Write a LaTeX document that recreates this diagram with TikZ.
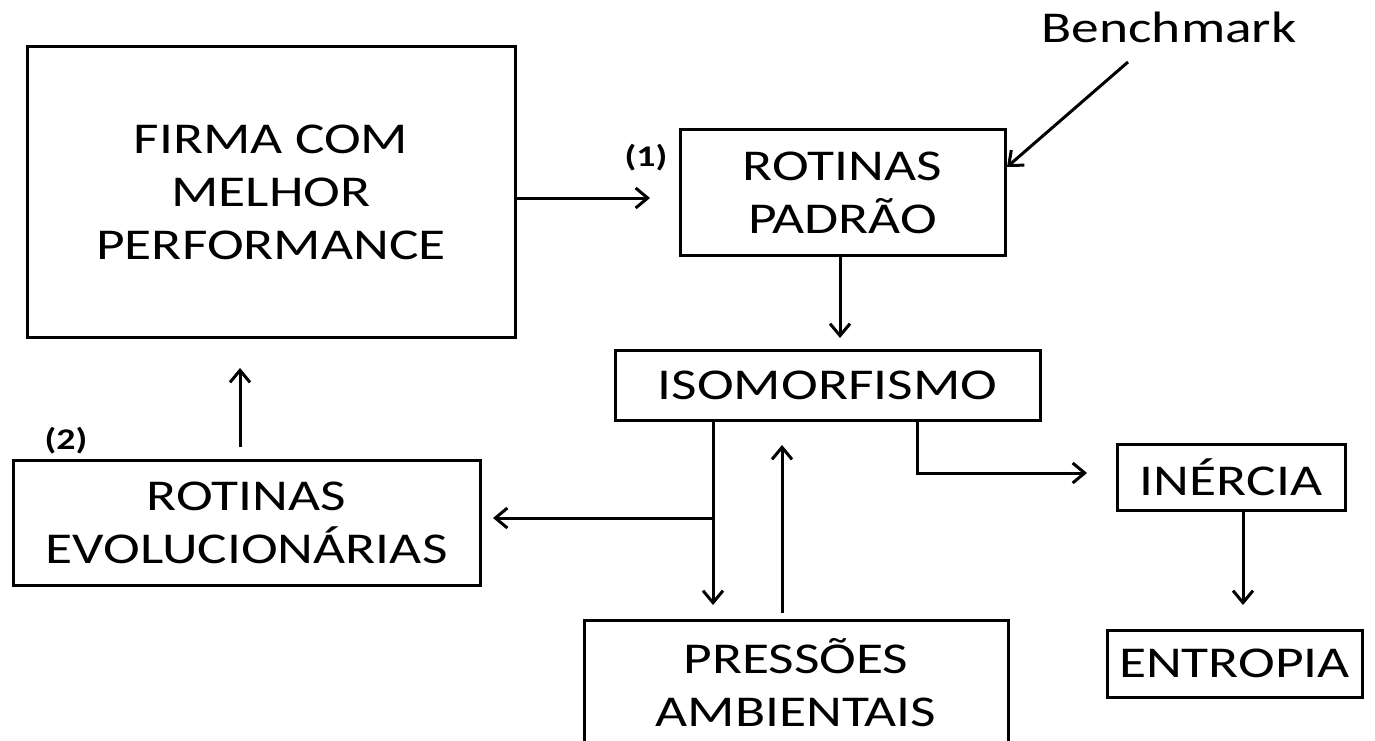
\documentclass[tikz,border=0pt]{standalone}
\usepackage{fontspec}
\setmainfont[FakeStretch=1.26]{Carlito}
\usetikzlibrary{arrows.meta}
\begin{document}
\begin{tikzpicture}[x=1pt,y=-1pt,
  box/.style={draw,line width=3pt,inner sep=0pt,align=center,font=\fontsize{44}{53}\selectfont},
  arr/.style={line width=3pt,-{Straight Barb[length=12pt,width=20pt,line width=3pt]}},
  lab/.style={font=\fontsize{30}{34}\selectfont\bfseries,inner sep=0pt}]
\useasboundingbox (0,0) rectangle (1375,741);
\clip (0,0) rectangle (1375,741);
\node[box,minimum width=488pt,minimum height=290pt] (firma) at (271,192) {FIRMA COM\\MELHOR\\PERFORMANCE};
\node[box,minimum width=325pt,minimum height=125pt] (padrao) at (842.5,192.5) {ROTINAS\\PADRÃO};
\node[box,minimum width=425pt,minimum height=70pt] (iso) at (827.5,385) {ISOMORFISMO};
\node[box,minimum width=467pt,minimum height=125pt] (evol) at (246.5,522.5) {ROTINAS\\EVOLUCIONÁRIAS};
\node[box,minimum width=228pt,minimum height=66pt] (inercia) at (1231,477) {INÉRCIA};
\node[box,minimum width=255pt,minimum height=67pt] (entropia) at (1234.5,663.5) {ENTROPIA};
\node[box,minimum width=424pt,minimum height=125pt] (pres) at (796,682.5) {PRESSÕES\\AMBIENTAIS};
\node[font=\fontsize{44}{53}\selectfont,anchor=base,inner sep=0pt] (bench) at (1169,43) {Benchmark};
\node[lab] (l1) at (646,158) {(1)};
\node[lab] (l2) at (66,441) {(2)};
% connectors
\coordinate (c1) at (650,198);
\draw[arr] (firma.east |- c1) -- (c1);
\coordinate (c2) at (840,338);
\draw[arr] (padrao.south -| c2) -- (c2);
\coordinate (c3a) at (240,447);
\coordinate (c3b) at (240,368);
\draw[arr] (c3a) -- (c3b);
\coordinate (c4) at (713,605);
\coordinate (c4b) at (713,518);
\coordinate (c4c) at (493,518);
\draw[arr] (iso.south -| c4) -- (c4);
\draw[arr] (c4b) -- (c4c);
\coordinate (c5a) at (782,613);
\coordinate (c5b) at (782,445);
\draw[arr] (c5a) -- (c5b);
\coordinate (c6) at (1087,473);
\coordinate (c6x) at (917,0);
\draw[arr] (iso.south -| c6x) |- (c6);
\coordinate (c7) at (1243,605);
\draw[arr] (inercia.south -| c7) -- (c7);
\coordinate (c8a) at (1128,62);
\coordinate (c8b) at (1007,167);
\draw[arr] (c8a) -- (c8b);
\end{tikzpicture}
\end{document}
